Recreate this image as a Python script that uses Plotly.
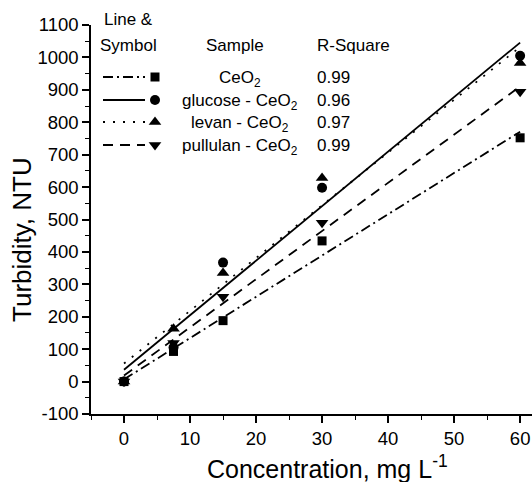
import numpy as np
import plotly.graph_objects as go

# ---- data ----
concentration = [0, 7.5, 15, 30, 60]
ceo2 = [0, 93, 188, 434, 752]
glucose_ceo2 = [0, 105, 367, 598, 1005]
levan_ceo2 = [0, 163, 335, 628, 983]
pullulan_ceo2 = [0, 119, 262, 490, 894]

sample_names = ["CeO<sub>2</sub>", "glucose - CeO<sub>2</sub>",
                "levan - CeO<sub>2</sub>", "pullulan - CeO<sub>2</sub>"]
r_square = ["0.99", "0.96", "0.97", "0.99"]

y_tick_values = [-100, 0, 100, 200, 300, 400, 500, 600, 700, 800, 900, 1000, 1100]
y_tick_labels = ["-100", "0", "100", "200", "300", "400", "500", "600", "700",
                 "800", "900", "1000", "1100"]
x_tick_values = [0, 10, 20, 30, 40, 50, 60]
x_tick_labels = ["0", "10", "20", "30", "40", "50", "60"]

series = [ceo2, glucose_ceo2, levan_ceo2, pullulan_ceo2]
symbols = ["square", "circle", "triangle-up", "triangle-down"]
msizes = [9, 10, 11, 11]
dashes = ["10px,4px,2px,4px", "solid", "2px,8px", "10px,7px"]

FONT = "Liberation Sans, Arial, sans-serif"
W, H = 532, 482
ML, MR, MT, MB = 91, 0, 25, 68
PW = W - ML - MR
PH = H - MT - MB


def px(xp):
    return (xp - ML) / PW


def py(yp):
    return (H - MB - yp) / PH


fig = go.Figure()
xs = np.array(concentration, dtype=float)
for ys, sym, ms, dash in zip(series, symbols, msizes, dashes):
    ys = np.array(ys, dtype=float)
    slope, icpt = np.polyfit(xs, ys, 1)
    xf = np.array([xs.min(), xs.max()])
    fig.add_trace(go.Scatter(x=xf, y=slope * xf + icpt, mode="lines",
                             line=dict(color="black", width=1.8, dash=dash),
                             showlegend=False, hoverinfo="skip"))
    fig.add_trace(go.Scatter(x=xs, y=ys, mode="markers",
                             marker=dict(symbol=sym, size=ms, color="black"),
                             showlegend=False, cliponaxis=False))

# ---- custom legend table (overlay axes in paper-like units) ----
row_y = [77, 100, 122, 145]
for i, (sym, ms, dash) in enumerate(zip(symbols, msizes, dashes)):
    yy = py(row_y[i])
    fig.add_trace(go.Scatter(x=[px(103), px(145)], y=[yy, yy], mode="lines",
                             line=dict(color="black", width=1.8, dash=dash),
                             xaxis="x2", yaxis="y2", showlegend=False, hoverinfo="skip"))
    fig.add_trace(go.Scatter(x=[px(155)], y=[yy], mode="markers",
                             marker=dict(symbol=sym, size=ms, color="black"),
                             xaxis="x2", yaxis="y2", showlegend=False, hoverinfo="skip"))

annots = []
tf = dict(family=FONT, size=17, color="black")
annots.append(dict(text="Line &amp;", x=px(128), y=py(19), xanchor="center", yanchor="middle"))
annots.append(dict(text="Symbol", x=px(128), y=py(46), xanchor="center", yanchor="middle"))
annots.append(dict(text="Sample", x=px(235), y=py(46), xanchor="center", yanchor="middle"))
annots.append(dict(text="R-Square", x=px(315), y=py(46), xanchor="left", yanchor="middle"))
for i in range(4):
    annots.append(dict(text=sample_names[i], x=px(240), y=py(row_y[i] + 2),
                       xanchor="center", yanchor="middle"))
    annots.append(dict(text=r_square[i], x=px(315), y=py(row_y[i]),
                       xanchor="left", yanchor="middle"))
for a in annots:
    a.update(xref="paper", yref="paper", showarrow=False, font=tf)

# axis titles (placed as in the reference)
annots.append(dict(text="Concentration, mg L<sup>-1</sup>", x=px(327), y=py(467),
                   xref="paper", yref="paper", xanchor="center", yanchor="middle",
                   showarrow=False, font=dict(family=FONT, size=25, color="black")))
annots.append(dict(text="Turbidity, NTU", x=px(22), y=py(240), textangle=-90,
                   xref="paper", yref="paper", xanchor="center", yanchor="middle",
                   showarrow=False, font=dict(family=FONT, size=26, color="black")))

axis_common = dict(showgrid=False, zeroline=False, showline=True, linecolor="black",
                   linewidth=1.5, ticks="outside", tickcolor="black", tickwidth=1.5,
                   ticklen=7, tickfont=dict(family=FONT, size=18.5, color="black"))

fig.update_layout(
    width=W, height=H,
    margin=dict(l=ML, r=MR, t=MT, b=MB),
    paper_bgcolor="white", plot_bgcolor="white",
    showlegend=False,
    xaxis=dict(range=[-5, 61.8], tickmode="array", tickvals=x_tick_values,
               ticktext=x_tick_labels,
               minor=dict(dtick=5, tick0=0, ticks="outside", ticklen=4,
                          tickcolor="black", tickwidth=1.2),
               **axis_common),
    yaxis=dict(range=[-100, 1100], tickmode="array", tickvals=y_tick_values,
               ticktext=y_tick_labels,
               minor=dict(dtick=50, tick0=0, ticks="outside", ticklen=4,
                          tickcolor="black", tickwidth=1.2),
               **axis_common),
    xaxis2=dict(range=[0, 1], overlaying="x", visible=False, fixedrange=True),
    yaxis2=dict(range=[0, 1], overlaying="y", visible=False, fixedrange=True),
    annotations=annots,
)

fig.write_html("out.html", config={"displayModeBar": False},
               post_script="document.body.style.margin='0';document.body.style.padding='0';")
